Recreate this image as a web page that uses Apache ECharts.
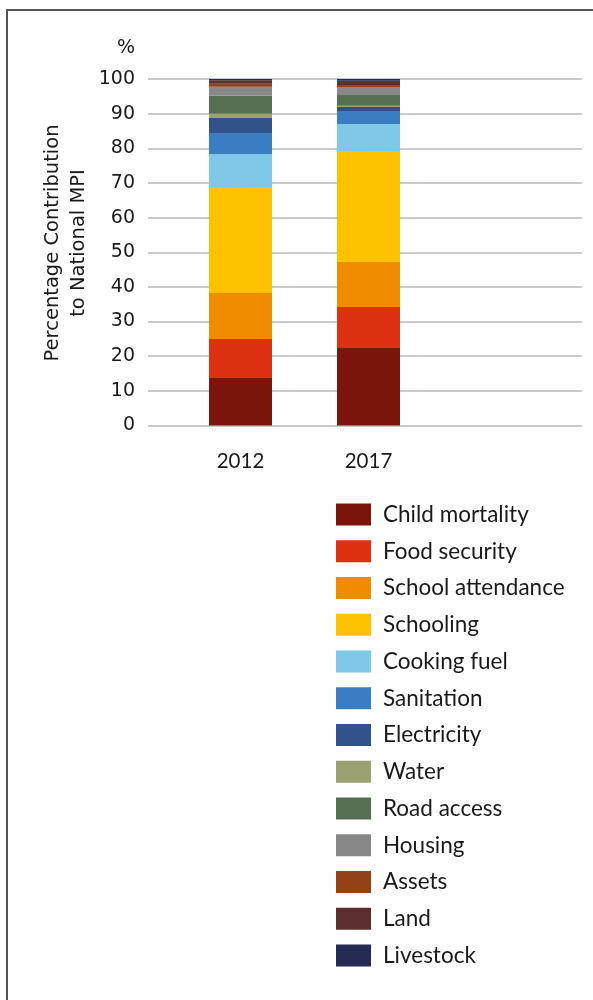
<!DOCTYPE html>
<html>
<head>
<meta charset="utf-8">
<script src="https://cdn.jsdelivr.net/npm/echarts@6/dist/echarts.min.js"></script>
<style>html,body{margin:0;padding:0;background:#fff}#c{width:593px;height:1000px}</style>
</head>
<body>
<div id="c"></div>
<script>
var years = ['2012', '2017'];
var seriesNames = ['Child mortality','Food security','School attendance','Schooling','Cooking fuel','Sanitation','Electricity','Water','Road access','Housing','Assets','Land','Livestock'];
var childMortality   = [13.7, 22.4];
var foodSecurity     = [11.3, 11.8];
var schoolAttendance = [13.25, 13.0];
var schooling        = [30.6, 32.0];
var cookingFuel      = [9.5, 7.8];
var sanitation       = [6.1, 3.8];
var electricity      = [4.3, 1.1];
var water            = [1.2, 0.4];
var roadAccess       = [5.2, 3.1];
var housing          = [2.6, 2.3];
var assets           = [0.9, 0.6];
var land             = [1.0, 1.2];
var livestock        = [0.35, 0.5];
var yTicks = [0,10,20,30,40,50,60,70,80,90,100];

var values = [childMortality, foodSecurity, schoolAttendance, schooling, cookingFuel, sanitation, electricity, water, roadAccess, housing, assets, land, livestock];
var colors = ['#7a150c','#dc3212','#f08c00','#fdc200','#80c8e8','#3a7dc3','#33528a','#9ba173','#566f52','#888888','#944319','#5c302e','#252a52'];

var chart = echarts.init(document.getElementById('c'), null, {renderer:'canvas'});
var TOP = 79, BOTTOM = 1000 - 425.5;
var series = seriesNames.map(function(n, i){
  return {
    name: n, type: 'bar', stack: 'total', xAxisIndex: 1, yAxisIndex: 1,
    barWidth: 63, data: values[i], itemStyle: {color: colors[i]},
    emphasis: {disabled: true}
  };
});
chart.setOption({
  animation: false,
  color: colors,
  grid: [
    {left: 148, right: 11, top: TOP, bottom: BOTTOM},
    {left: 176.5, width: 256, top: TOP, bottom: BOTTOM}
  ],
  xAxis: [
    {type: 'category', gridIndex: 0, data: [''], show: false},
    {type: 'category', gridIndex: 1, data: years,
     axisLine: {show: false}, axisTick: {show: false},
     axisLabel: {margin: 25, fontFamily: 'Lato', fontSize: 20.5, color: '#1a1a1a'}}
  ],
  yAxis: [
    {type: 'value', gridIndex: 0, min: 0, max: 100, interval: 10,
     axisLine: {show: false}, axisTick: {show: false},
     axisLabel: {margin: 13, fontFamily: 'DejaVu Sans', fontSize: 19, color: '#1a1a1a',
       formatter: function(v){ return yTicks.indexOf(v) >= 0 ? String(v) : ''; }},
     splitLine: {lineStyle: {color: '#cacaca', width: 2}}},
    {type: 'value', gridIndex: 1, min: 0, max: 100, interval: 10, show: false, splitLine: {show: false}}
  ],
  legend: {
    orient: 'vertical', left: 336, top: 503, padding: 0,
    itemWidth: 35, itemHeight: 22, itemGap: 13.75,
    icon: 'rect', selectedMode: false,
    data: seriesNames,
    textStyle: {fontFamily: 'Lato', fontSize: 22.5, color: '#1a1a1a', lineHeight: 22, padding: [0,0,0,7]}
  },
  graphic: [
    {type: 'polyline', shape: {points: [[7, 1000], [7, 10], [593, 10]]},
     style: {stroke: '#555555', lineWidth: 2, fill: null}, silent: true},
    {type: 'text', x: 135, y: 48,
     style: {text: '%', font: '19px "DejaVu Sans"', fill: '#1a1a1a', textAlign: 'right', textVerticalAlign: 'middle'}},
    {type: 'text', x: 66, y: 243, rotation: Math.PI / 2,
     style: {text: 'Percentage Contribution\nto National MPI', font: '19.5px "DejaVu Sans"', lineHeight: 26,
       fill: '#1a1a1a', textAlign: 'center', textVerticalAlign: 'middle'}}
  ],
  series: series
});
</script>
</body>
</html>
